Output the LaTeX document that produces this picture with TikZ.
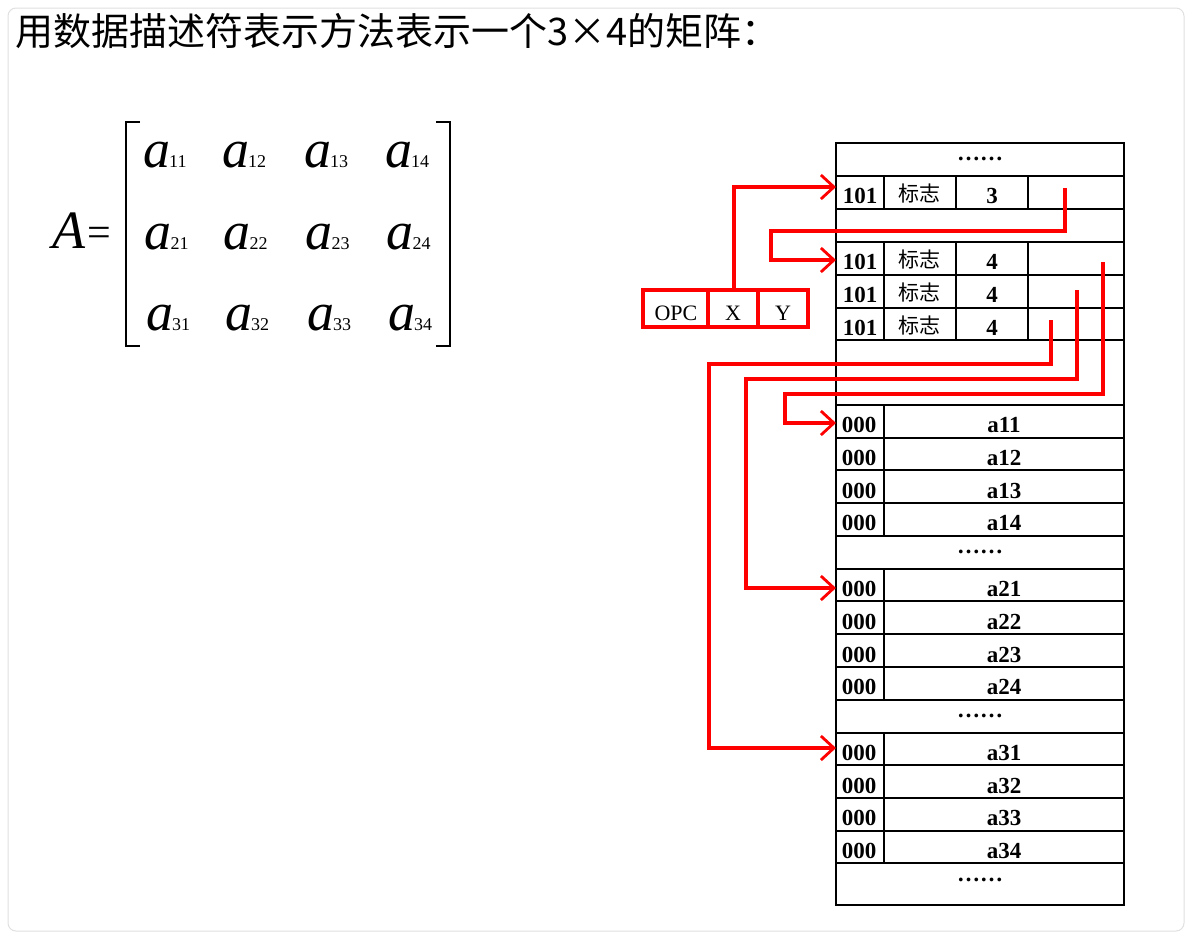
\documentclass[tikz,border=0pt]{standalone}
\usepackage{fontspec}
\setmainfont{Liberation Serif}
\newfontfamily\cjk{Noto Sans CJK SC}
\usetikzlibrary{arrows.meta}
\begin{document}
\begin{tikzpicture}[x=1pt,y=-1pt,
  tl/.style={line width=1.8pt,black},
  rl/.style={line width=3.2pt,red,line join=miter},
  ra/.style={rl,-{Straight Barb[length=13pt,width=24pt,line width=2.8pt]}},
  cell/.style={font=\fontsize{23}{23}\selectfont\bfseries,inner sep=0pt},
  mel/.style={font=\fontsize{54}{54}\selectfont\itshape,inner sep=0pt,anchor=base west},
  sub/.style={font=\fontsize{18}{18}\selectfont,inner sep=0pt,anchor=base west}]
\useasboundingbox (0,0) rectangle (1192,938);
\draw[rounded corners=8pt,draw=black!12,line width=1pt,fill=white] (8,8) rectangle (1184,931);
\node[anchor=base west,inner sep=0pt,font=\cjk\fontsize{38}{38}\selectfont] (title) at (15,45) {用数据描述符表示方法表示一个3×4的矩阵：};
% matrix
\node[mel,anchor=base west] (A) at (52,248) {A};
\node[font=\fontsize{42}{42}\selectfont,inner sep=0pt,anchor=base west] (eq) at (87,246) {=};
\draw[line width=2pt] (140,122) -- (126,122) -- (126,346) -- (140,346);
\draw[line width=2pt] (436,122) -- (450,122) -- (450,346) -- (436,346);
\foreach \r/\y in {1/167,2/249,3/330}{
  \foreach \c/\x in {1/143,2/222,3/304,4/385}{
    \node[mel] (m\r\c) at (\x+\r*1.5-1.5,\y) {a};
    \node[sub] (s\r\c) at (\x+26+\r*1.5-1.5,\y) {\r\c};
  }}
% table
\draw[tl] (836,143) rectangle (1124,905);
\foreach \y in {176,209,242,275,308,340,405,438,470,503,536,569,601,634,667,700,733,765,798,831,863}
  \draw[tl] (836,\y) -- (1124,\y);
\foreach \a/\b in {176/209,242/340}{
  \foreach \x in {884,956,1028} \draw[tl] (\x,\a) -- (\x,\b);}
\foreach \a/\b in {405/536,569/700,733/863} \draw[tl] (884,\a) -- (884,\b);
\foreach \y in {159,552,716,880} \node[cell] (d\y) at (980,\y) {……};
\foreach \y/\v in {192/3,258/4,291/4,324/4}{
  \node[cell] (f\y) at (860,\y+4) {101};
  \node[inner sep=0pt,font=\cjk\fontsize{21}{21}\selectfont] (g\y) at (919,\y+2) {标志};
  \node[cell] (v\y) at (992,\y+4) {\v};}
\foreach \y/\n in {421/11,454/12,487/13,519/14,585/21,618/22,651/23,683/24,749/31,782/32,814/33,847/34}{
  \node[cell] (z\n) at (859,\y+4) {000};
  \node[cell] (e\n) at (1004,\y+4) {a\n};}
% instruction
\draw[rl] (643,290) rectangle (808,327);
\draw[rl] (708,290) -- (708,327) (758,290) -- (758,327);
\node[font=\fontsize{22}{22}\selectfont,inner sep=0pt] (opc) at (676,313) {OPC};
\node[font=\fontsize{22}{22}\selectfont,inner sep=0pt] (X) at (733,313) {X};
\node[font=\fontsize{22}{22}\selectfont,inner sep=0pt] (Y) at (783,313) {Y};
\coordinate (t0) at (836,187);
\coordinate (t1) at (836,260);
\coordinate (t2) at (836,423);
\coordinate (t3) at (836,588);
\coordinate (t4) at (836,748);
\draw[ra] (734,290) -- (734,187) -- (t0);
\draw[ra] (1065,188) -- (1065,231) -- (771,231) -- (771,260) -- (t1);
\draw[ra] (1103,262) -- (1103,394) -- (785,394) -- (785,423) -- (t2);
\draw[ra] (1077,290) -- (1077,379) -- (746,379) -- (746,588) -- (t3);
\draw[ra] (1051,320) -- (1051,364) -- (709,364) -- (709,748) -- (t4);
\end{tikzpicture}
\end{document}
